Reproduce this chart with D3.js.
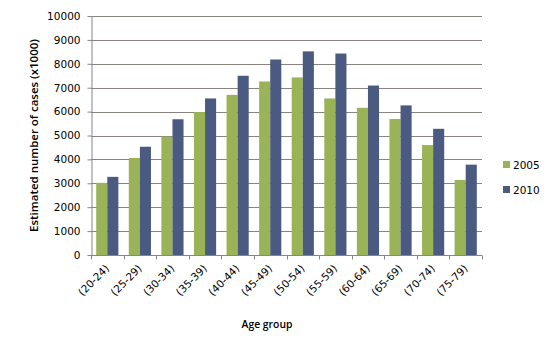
<!DOCTYPE html>
<html>
<head>
<meta charset="utf-8">
<script src="https://cdn.jsdelivr.net/npm/d3@7"></script>
<style>
  body { margin: 0; background: #fff; }
  svg { display: block; }
</style>
</head>
<body>
<svg id="chart" width="556" height="352"></svg>
<script>
const ageGroups = ["(20-24)", "(25-29)", "(30-34)", "(35-39)", "(40-44)", "(45-49)",
    "(50-54)", "(55-59)", "(60-64)", "(65-69)", "(70-74)", "(75-79)"];
const years = ["2005", "2010"];
const cases2005 = [3020, 4060, 4950, 5980, 6700, 7260, 7430, 6550, 6160, 5690, 4600, 3140];
const cases2010 = [3270, 4530, 5680, 6550, 7500, 8180, 8520, 8430, 7090, 6260, 5280, 3780];
const yTicks = [0, 1000, 2000, 3000, 4000, 5000, 6000, 7000, 8000, 9000, 10000];

const colors = { "2005": "#9bb357", "2010": "#4a5a80" };
const tickFont = "DejaVu Sans, Verdana, sans-serif";
const titleFont = "Open Sans, Lato, sans-serif";

const svg = d3.select("#chart");
const margin = { top: 16, left: 91, right: 74, bottom: 97 };
const width = 556, height = 352;
const innerWidth = width - margin.left - margin.right;
const innerHeight = height - margin.top - margin.bottom;

const g = svg.append("g").attr("transform", `translate(${margin.left},${margin.top})`);

const x = d3.scaleBand().domain(ageGroups).range([0, innerWidth]).paddingInner(0).paddingOuter(0);
const xInner = d3.scaleBand().domain(years).range([0, x.bandwidth()]).paddingInner(0).paddingOuter(0.47);
const y = d3.scaleLinear().domain([0, 10000]).range([innerHeight, 0]);

// gridlines
g.append("g").selectAll("line")
    .data(yTicks)
    .join("line")
    .attr("x1", 0).attr("x2", innerWidth)
    .attr("y1", d => Math.round(y(d)) + 0.5).attr("y2", d => Math.round(y(d)) + 0.5)
    .attr("stroke", "#8a837c").attr("stroke-width", 1);

// bars
const rows = ageGroups.map((a, i) => ({ age: a, values: [
    { year: "2005", v: cases2005[i] }, { year: "2010", v: cases2010[i] }] }));

g.append("g").selectAll("g")
    .data(rows)
    .join("g")
    .attr("transform", d => `translate(${x(d.age)},0)`)
    .selectAll("rect")
    .data(d => d.values)
    .join("rect")
    .attr("x", d => xInner(d.year))
    .attr("width", xInner.bandwidth())
    .attr("y", d => y(d.v))
    .attr("height", d => innerHeight - y(d.v))
    .attr("fill", d => colors[d.year]);

// y axis
const yAxis = g.append("g")
    .attr("transform", "translate(0.5,0)")
    .call(d3.axisLeft(y).tickValues(yTicks).tickSize(4).tickSizeOuter(0).tickFormat(d3.format("d")));
yAxis.selectAll("text").attr("font-family", tickFont).attr("font-size", 10.5).attr("fill", "#000").attr("x", -11);
yAxis.selectAll("line").attr("stroke", "#868686");
yAxis.select(".domain").attr("stroke", "#868686");

// x axis with ticks at category boundaries
const xAxisG = g.append("g").attr("transform", `translate(0,${innerHeight + 0.5})`);
xAxisG.append("line").attr("x1", 0).attr("x2", innerWidth).attr("stroke", "#868686");
xAxisG.selectAll("line.tick")
    .data(ageGroups.concat([null]))
    .join("line")
    .attr("class", "tick")
    .attr("x1", (d, i) => Math.round(i * x.step()) + 0.5)
    .attr("x2", (d, i) => Math.round(i * x.step()) + 0.5)
    .attr("y1", 0).attr("y2", 4)
    .attr("stroke", "#868686");
xAxisG.selectAll("text")
    .data(ageGroups)
    .join("text")
    .attr("transform", d => `translate(${x(d) + x.bandwidth() / 2},${11}) rotate(-45)`)
    .attr("text-anchor", "end")
    .attr("dy", "0.35em")
    .attr("font-family", tickFont)
    .attr("font-size", 10.5)
    .text(d => d);

// axis titles, sized to the span they take in the original
function fitText(sel, target) {
    const w = sel.node().getComputedTextLength();
    const fs = +sel.attr("font-size");
    sel.attr("font-size", (fs * target / w).toFixed(2));
}

const yTitle = svg.append("text")
    .attr("transform", `translate(38,${margin.top + innerHeight / 2}) rotate(-90)`)
    .attr("text-anchor", "middle")
    .attr("font-family", titleFont)
    .attr("font-weight", 600)
    .attr("font-size", 11)
    .text("Estimated number of cases (x1000)");
fitText(yTitle, 193);

const xTitle = svg.append("text")
    .attr("x", 267).attr("y", 328)
    .attr("text-anchor", "middle")
    .attr("font-family", titleFont)
    .attr("font-weight", 600)
    .attr("font-size", 11)
    .text("Age group");
fitText(xTitle, 51);

// legend
const legend = svg.append("g").selectAll("g")
    .data(years)
    .join("g")
    .attr("transform", (d, i) => `translate(503,${161 + i * 25})`);
legend.append("rect").attr("width", 7).attr("height", 7).attr("fill", d => colors[d]);
legend.append("text")
    .attr("x", 10).attr("y", 7.5)
    .attr("font-family", tickFont)
    .attr("font-size", 10.5)
    .text(d => d);
</script>
</body>
</html>
